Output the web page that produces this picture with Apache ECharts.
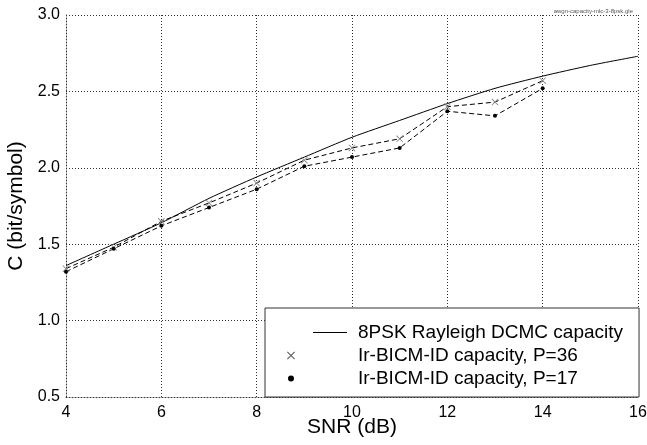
<!DOCTYPE html>
<html>
<head>
<meta charset="utf-8">
<script src="https://cdn.jsdelivr.net/npm/echarts@6/dist/echarts.min.js"></script>
<style>
  html, body { margin: 0; padding: 0; background: #fff; }
  #chart { width: 647px; height: 445px; }
</style>
</head>
<body>
<div id="chart"></div>
<script>
// SNR (dB) points
const snr = [4, 5, 6, 7, 8, 9, 10, 11, 12, 13, 14, 15, 16];
const dcmc = [1.36, 1.50, 1.64, 1.80, 1.94, 2.07, 2.20, 2.31, 2.42, 2.52, 2.60, 2.67, 2.73];

const snrBicm = [4, 5, 6, 7, 8, 9, 10, 11, 12, 13, 14];
const p36 = [1.34, 1.48, 1.65, 1.77, 1.90, 2.05, 2.13, 2.19, 2.40, 2.43, 2.57];
const p17 = [1.32, 1.47, 1.62, 1.74, 1.86, 2.01, 2.07, 2.13, 2.37, 2.34, 2.52];

const xTicks = [4, 6, 8, 10, 12, 14, 16];
const yTicks = [0.5, 1.0, 1.5, 2.0, 2.5, 3.0];

const names = [
  "8PSK Rayleigh DCMC capacity",
  "Ir-BICM-ID capacity, P=36",
  "Ir-BICM-ID capacity, P=17",
];

const pair = (xs, ys) => xs.map((x, i) => [x, ys[i]]);

// x-shaped marker
const crossPath = "path://M0,0.7L0.7,0L8,7.3L7.3,8ZM7.3,0L8,0.7L0.7,8L0,7.3Z";
// legend icons, 66x10 box
const legLine = "path://M0,0L0,0M66,10L66,10M26,4.5L60,4.5L60,5.5L26,5.5Z";
const legCross = "path://M0,0L0,0M66,10L66,10M0,1.7L0.7,1L8,8.3L7.3,9ZM7.3,1L8,1.7L0.7,9L0,8.3Z";
const legDot = "path://M0,0L0,0M66,10L66,10M7,5A3,3,0,1,1,1,5A3,3,0,1,1,7,5Z";

const font = "'Liberation Sans', Arial, Helvetica, sans-serif";
const dotted = { color: "#333", width: 1, type: [1, 2] };

const myChart = echarts.init(document.getElementById("chart"));

const option = {
  animation: false,
  backgroundColor: "#fff",
  textStyle: { fontFamily: font },
  title: {
    text: "awgn-capacity-mlc-3-8psk.gle",
    right: 9,
    top: 3,
    textStyle: { fontSize: 6, fontWeight: "normal", color: "#555", fontFamily: font },
  },
  grid: { left: 66, right: 9, top: 15, bottom: 48, outerBoundsMode: "none", containLabel: false },
  xAxis: {
    type: "value",
    min: xTicks[0],
    max: xTicks[xTicks.length - 1],
    interval: 2,
    name: "SNR (dB)",
    nameLocation: "middle",
    nameGap: 20,
    nameMoveOverlap: false,
    nameTextStyle: { fontSize: 21, color: "#000", fontFamily: font },
    axisLine: { show: true, lineStyle: dotted },
    axisTick: { show: false },
    axisLabel: { fontSize: 16, color: "#000", margin: 8, fontFamily: font },
    splitLine: { show: true, lineStyle: dotted },
  },
  yAxis: {
    type: "value",
    min: yTicks[0],
    max: yTicks[yTicks.length - 1],
    interval: 0.5,
    name: "C (bit/symbol)",
    nameLocation: "middle",
    nameGap: 39,
    nameMoveOverlap: false,
    nameTextStyle: { fontSize: 21, color: "#000", fontFamily: font },
    axisLine: { show: true, lineStyle: dotted },
    axisTick: { show: false },
    axisLabel: {
      fontSize: 16,
      color: "#000",
      margin: 6,
      fontFamily: font,
      formatter: (v) => v.toFixed(1),
    },
    splitLine: { show: true, lineStyle: dotted },
  },
  legend: {
    orient: "vertical",
    left: 265,
    bottom: 48,
    padding: [15, 16, 9, 22],
    itemGap: 4,
    itemWidth: 66,
    itemHeight: 10,
    backgroundColor: "#fff",
    borderColor: "#333",
    borderWidth: 1,
    itemStyle: { borderWidth: 0 },
    textStyle: { fontSize: 19, color: "#000", fontFamily: font },
    data: [
      { name: names[0], icon: legLine, itemStyle: { color: "#000" } },
      { name: names[1], icon: legCross, itemStyle: { color: "#555" } },
      { name: names[2], icon: legDot, itemStyle: { color: "#000" } },
    ],
  },
  series: [
    {
      name: names[0],
      type: "line",
      data: pair(snr, dcmc),
      showSymbol: false,
      smooth: 0.2,
      lineStyle: { color: "#000", width: 1 },
      itemStyle: { color: "#000" },
    },
    {
      name: names[1],
      type: "line",
      data: pair(snrBicm, p36),
      symbol: crossPath,
      symbolSize: 7,
      lineStyle: { color: "#000", width: 1, type: [5, 3] },
      itemStyle: { color: "#888" },
    },
    {
      name: names[2],
      type: "line",
      data: pair(snrBicm, p17),
      symbol: "circle",
      symbolSize: 4,
      lineStyle: { color: "#000", width: 1, type: [5, 3] },
      itemStyle: { color: "#000" },
    },
  ],
};

option && myChart.setOption(option);
</script>
</body>
</html>
